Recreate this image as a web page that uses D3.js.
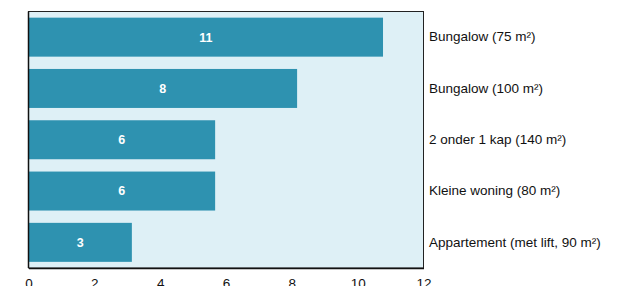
<!DOCTYPE html>
<html lang="nl">
<head>
    <meta charset="UTF-8" />
    <title>Woningtypes</title>
    <script src="https://d3js.org/d3.v7.js"></script>
    <style>
        body { margin: 0; background: #fff; }
        text { font-family: "Liberation Sans", Arial, sans-serif; }
    </style>
</head>
<body>
    <script>
        var w = 620;
        var h = 286;

        // data
        var categories = ["Bungalow (75 m²)", "Bungalow (100 m²)", "2 onder 1 kap (140 m²)", "Kleine woning (80 m²)", "Appartement (met lift, 90 m²)"];
        var values = [10.77, 8.16, 5.67, 5.67, 3.14];
        var xTicks = [0, 2, 4, 6, 8, 10, 12];

        // plot box (note: "top" is reserved on window, so use other names)
        var plotLeft = 28.5, plotRight = 423.5, plotTop = 11.5, plotBottom = 268;

        var svg = d3.select("body")
            .append("svg")
            .attr("width", w)
            .attr("height", h);

        var xScale = d3.scaleLinear()
            .domain([0, 12])
            .range([plotLeft, plotRight]);

        var yScale = d3.scaleBand()
            .domain(categories)
            .range([plotTop, plotBottom])
            .paddingInner(0.24)
            .paddingOuter(0.12);

        // plot background
        svg.append("rect")
            .attr("x", plotLeft)
            .attr("y", plotTop)
            .attr("width", plotRight - plotLeft)
            .attr("height", plotBottom - plotTop)
            .attr("fill", "#def0f6")
            .attr("stroke", "#222")
            .attr("stroke-width", 1);

        svg.selectAll("rect.bar")
            .data(values)
            .enter()
            .append("rect")
            .attr("class", "bar")
            .attr("x", xScale(0))
            .attr("y", function (d, i) { return yScale(categories[i]); })
            .attr("width", function (d) { return xScale(d) - xScale(0); })
            .attr("height", yScale.bandwidth())
            .attr("fill", "#2e92b0");

        // value labels inside bars
        svg.selectAll("text.val")
            .data(values)
            .enter()
            .append("text")
            .attr("class", "val")
            .attr("x", function (d) { return (xScale(0) + xScale(d)) / 2; })
            .attr("y", function (d, i) { return yScale(categories[i]) + yScale.bandwidth() / 2; })
            .attr("dy", "0.35em")
            .attr("text-anchor", "middle")
            .attr("fill", "white")
            .attr("font-weight", "bold")
            .attr("font-size", 12.5)
            .text(function (d) { return Math.round(d); });

        // category labels on the right
        var yAxis = svg.append("g")
            .attr("transform", "translate(" + plotRight + ",0)")
            .call(d3.axisRight(yScale).tickSize(0).tickPadding(5.5));
        yAxis.select(".domain").remove();
        yAxis.selectAll("text")
            .attr("font-family", "Liberation Sans, Arial, sans-serif")
            .attr("font-size", 13.5)
            .attr("fill", "#111");

        var xAxis = svg.append("g")
            .attr("transform", "translate(0," + plotBottom + ")")
            .call(d3.axisBottom(xScale).tickValues(xTicks).tickSize(0).tickPadding(10));
        xAxis.select(".domain").attr("stroke", "#111").attr("stroke-width", 1.5);
        xAxis.selectAll("text")
            .attr("font-family", "Liberation Sans, Arial, sans-serif")
            .attr("font-size", 13.5)
            .attr("fill", "#111");

        // left axis line
        svg.append("line")
            .attr("x1", plotLeft).attr("x2", plotLeft)
            .attr("y1", plotTop).attr("y2", plotBottom)
            .attr("stroke", "#111")
            .attr("stroke-width", 1.5);
    </script>
</body>
</html>
